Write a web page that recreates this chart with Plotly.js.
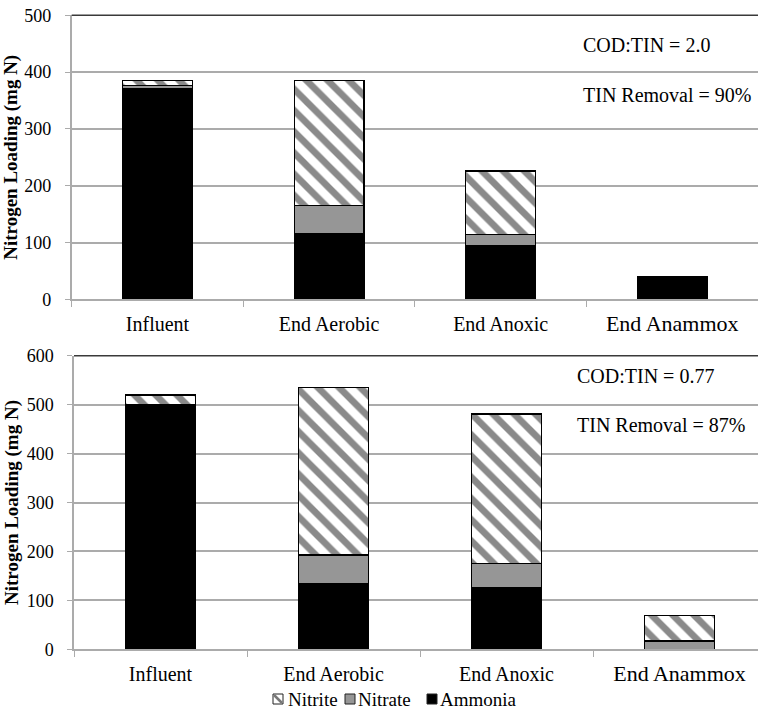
<!DOCTYPE html>
<html>
<head>
<script src="https://cdn.plot.ly/plotly-3.0.1.min.js"></script>
<style>html,body{margin:0;padding:0;background:#fff;}</style>
</head>
<body>
<div id="chart"></div>
<script>
// ---- data ----
const categories = ['Influent', 'End Aerobic', 'End Anoxic', 'End Anammox'];
const tickLabels = ['Influent', 'End Aerobic', 'End Anoxic', '<span style="font-size:22px">End Anammox</span>'];
const seriesNames = ['Nitrite', 'Nitrate', 'Ammonia'];

// top panel (COD:TIN = 2.0)
const ammoniaTop = [370, 115, 94, 40];
const nitrateTop = [6, 50, 20, 0];
const nitriteTop = [9, 220, 112, 0];
// bottom panel (COD:TIN = 0.77)
const ammoniaBot = [500, 134, 127, 0];
const nitrateBot = [0, 59, 49, 17];
const nitriteBot = [20, 342, 305, 52];

const yTicksTop = [0, 100, 200, 300, 400, 500];
const yTicksBot = [0, 100, 200, 300, 400, 500, 600];
const notesTop = ['COD:TIN = 2.0', 'TIN Removal = 90%'];
const notesBot = ['COD:TIN = 0.77', 'TIN Removal = 87%'];
const yTitle = '<b>Nitrogen Loading (mg N)</b>';

// ---- styling ----
const W = 758, H = 709;
const px = x => x / W;
const py = y => 1 - y / H;
const FONT = 'Liberation Serif';
const GRID = '#ababab';
const lineStyle = {color: '#000', width: 1.3};

function mk(vals, name, xa, ya, kind) {
  const t = {type: 'bar', x: categories, y: vals, name: name, xaxis: xa, yaxis: ya,
    showlegend: false, hoverinfo: 'y+name', marker: {line: lineStyle}};
  if (kind === 'ammonia') t.marker.color = '#000';
  else if (kind === 'nitrate') t.marker.color = '#969696';
  else {
    t.marker.color = '#fff';
    t.marker.pattern = {shape: '\\', fgcolor: '#8a8a8a', bgcolor: '#ffffff', size: 15, solidity: 0.45};
  }
  return t;
}

const data = [
  mk(ammoniaTop, 'Ammonia', 'x', 'y', 'ammonia'),
  mk(nitrateTop, 'Nitrate', 'x', 'y', 'nitrate'),
  mk(nitriteTop, 'Nitrite', 'x', 'y', 'nitrite'),
  mk(ammoniaBot, 'Ammonia', 'x2', 'y2', 'ammonia'),
  mk(nitrateBot, 'Nitrate', 'x2', 'y2', 'nitrate'),
  mk(nitriteBot, 'Nitrite', 'x2', 'y2', 'nitrite')
];

function xAxis(domainLeft, rangeEnd, anchor) {
  return {
    domain: [domainLeft, 1], anchor: anchor, type: 'category',
    categoryorder: 'array', categoryarray: categories,
    range: [-0.5, rangeEnd], tickson: 'boundaries',
    tickvals: categories, ticktext: tickLabels,
    ticks: 'outside', ticklen: 6, tickcolor: GRID, tickwidth: 1.3,
    showline: true, linecolor: GRID, linewidth: 1.5,
    showgrid: false, zeroline: false, fixedrange: true,
    tickfont: {family: FONT, size: 20, color: '#000'}, ticklabelstandoff: 6
  };
}
function yAxis(domain, maxv, ticks, anchor) {
  return {
    domain: domain, anchor: anchor, range: [0, maxv], tickvals: ticks,
    ticks: 'outside', ticklen: 5, tickcolor: GRID, tickwidth: 1.3,
    showline: true, linecolor: GRID, linewidth: 1.5,
    showgrid: true, gridcolor: GRID, gridwidth: 1.5, zeroline: false, fixedrange: true,
    tickfont: {family: FONT, size: 18, color: '#000'}, ticklabelstandoff: 10,
    title: {text: yTitle, font: {family: FONT, size: 19, color: '#000'}, standoff: 3}
  };
}

const topDom = [py(299.3), py(15.3)];
const botDom = [py(649.3), py(355.7)];

const annotations = [];
function note(text, x, y) {
  annotations.push({text: text, xref: 'paper', yref: 'paper', x: px(x), y: py(y),
    xanchor: 'left', yanchor: 'middle', showarrow: false,
    font: {family: FONT, size: 20, color: '#000'}});
}
note(notesTop[0], 581, 45);
note(notesTop[1], 581, 95);
note(notesBot[0], 575, 376);
note(notesBot[1], 575, 425);

// legend drawn as small boxes + text
const legendY = 699;
const legendItems = [
  {name: seriesNames[0], box: 273, text: 286},
  {name: seriesNames[1], box: 345, text: 356},
  {name: seriesNames[2], box: 427, text: 438}
];
const shapes = [
  {type: 'line', xref: 'paper', yref: 'paper', x0: px(71.7), x1: 1, y0: py(15.3), y1: py(15.3), line: {color: '#3a3a3a', width: 1.5}},
  {type: 'line', xref: 'paper', yref: 'paper', x0: px(74), x1: 1, y0: py(355.7), y1: py(355.7), line: {color: '#3a3a3a', width: 1.5}}
];
const fills = ['#fff', '#969696', '#000'];
legendItems.forEach((it, i) => {
  const s = 10;
  shapes.push({type: 'rect', xref: 'paper', yref: 'paper',
    x0: px(it.box), x1: px(it.box + s), y0: py(legendY - s / 2), y1: py(legendY + s / 2),
    fillcolor: fills[i], line: {color: '#222', width: 1}});
  if (i === 0) {
    shapes.push({type: 'line', xref: 'paper', yref: 'paper',
      x0: px(it.box + 1), x1: px(it.box + s - 1), y0: py(legendY - s / 2 + 1), y1: py(legendY + s / 2 - 1),
      line: {color: '#777', width: 2.5}});
  }
  annotations.push({text: it.name, xref: 'paper', yref: 'paper', x: px(it.text), y: py(legendY),
    xanchor: 'left', yanchor: 'middle', showarrow: false,
    font: {family: FONT, size: 19, color: '#000'}});
});

const layout = {
  width: W, height: H, autosize: false,
  margin: {l: 0, r: 0, t: 0, b: 0, pad: 0},
  paper_bgcolor: '#fff', plot_bgcolor: '#fff',
  barmode: 'stack', bargap: 0.593,
  showlegend: false,
  xaxis: xAxis(px(71.7), 3.5, 'y'),
  yaxis: yAxis(topDom, 500, yTicksTop, 'x'),
  xaxis2: xAxis(px(74), -0.5 + (W - 74) / 173, 'y2'),
  yaxis2: yAxis(botDom, 600, yTicksBot, 'x2'),
  annotations: annotations,
  shapes: shapes
};

Plotly.newPlot('chart', data, layout, {displayModeBar: false});
</script>
</body>
</html>
